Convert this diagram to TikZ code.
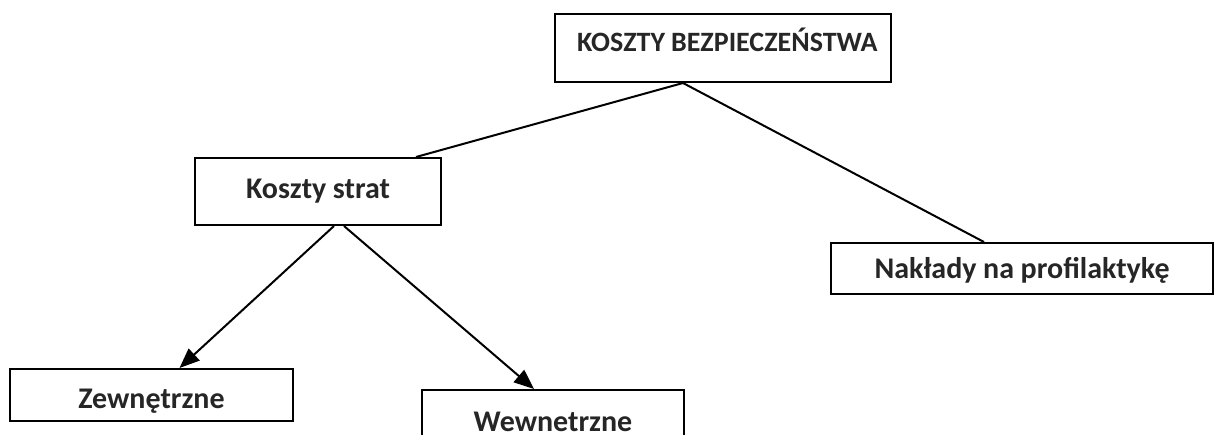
\documentclass[tikz,border=0pt]{standalone}
\usepackage{fontspec}
\setmainfont{Carlito}
\usetikzlibrary{arrows.meta}
\newcommand{\tightspace}{\spaceskip=0.22em\relax}

\begin{document}
\begin{tikzpicture}[x=0.5pt,y=-0.5pt,>={Triangle[length=10pt,width=8pt]}]
    \tikzstyle{box}=[draw,line width=1pt,anchor=north west,inner sep=0pt,align=center,
        font=\fontsize{15}{17}\selectfont\bfseries,execute at begin node=\tightspace,text=black!85]
    \useasboundingbox (0,0) rectangle (1215,434);

    \node[box,align=left,font=\fontsize{14}{16}\selectfont\bfseries,text width=168pt,text height=18.5pt,text depth=15.5pt] (A1) at (554,13) {\hspace*{11pt}KOSZTY BEZPIECZEŃSTWA};
    \node[box,text width=123pt,text height=20pt,text depth=13.5pt] (B1) at (194,157) {Koszty strat};
    \node[box,text width=191pt,text height=17.5pt,text depth=8pt] (B2) at (830,242) {Nakłady na profilaktykę};
    \node[box,text width=141.5pt,text height=19.5pt,text depth=6.5pt] (C1) at (9,368) {Zewnętrzne};
    \node[box,text width=131pt,text height=20.5pt,text depth=10pt] (C2) at (421,389) {Wewnetrzne};

    \draw[line width=1pt] ([xshift=-20pt]A1.south) -- ([xshift=49pt]B1.north);
    \draw[line width=1pt] ([xshift=-20pt]A1.south) -- ([xshift=-19pt]B2.north);
    \draw[->,line width=1pt] ([xshift=8pt]B1.south) -- ([xshift=14pt]C1.north);
    \draw[->,line width=1pt] ([xshift=13pt]B1.south) -- ([xshift=-9.5pt]C2.north);

\end{tikzpicture}
\end{document}
